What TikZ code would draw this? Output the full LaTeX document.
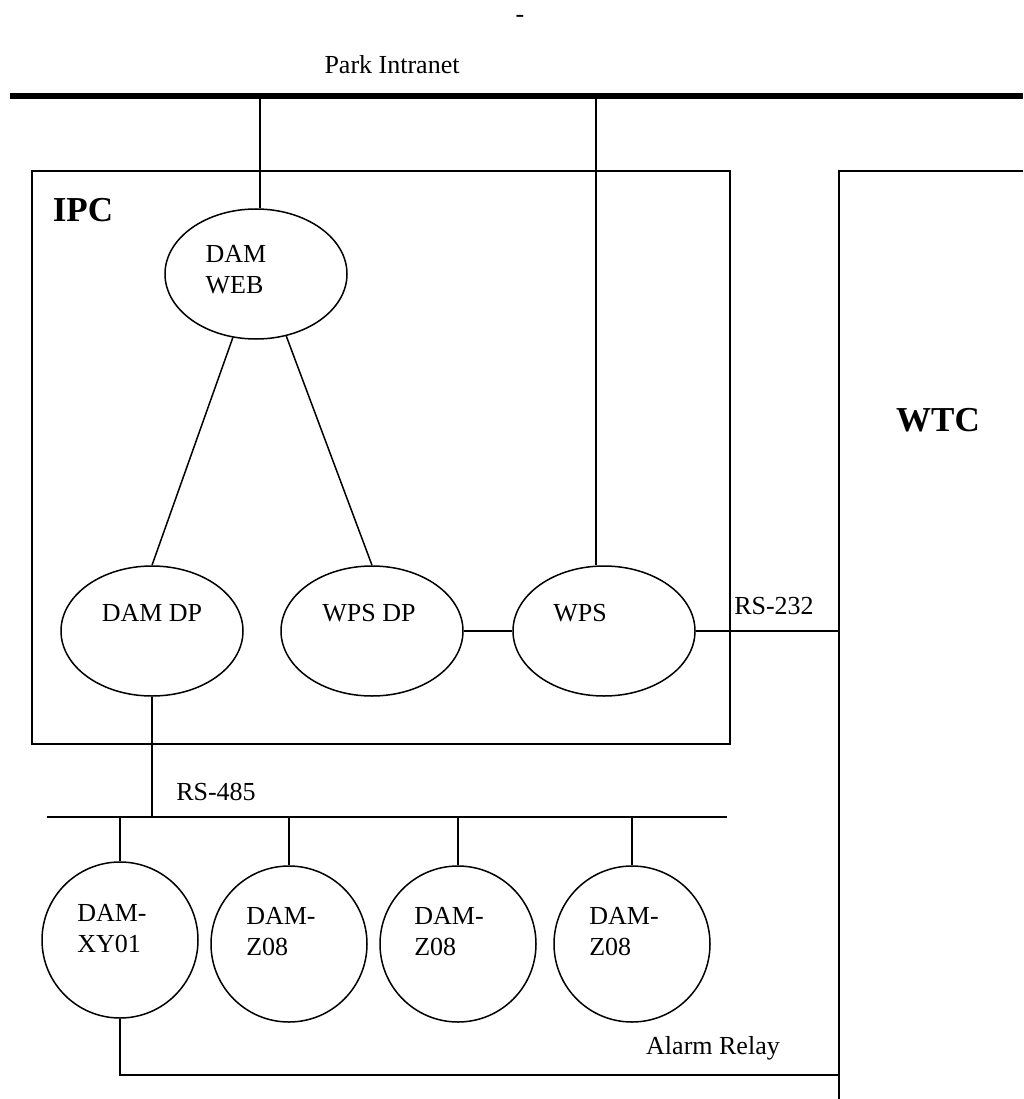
\documentclass[tikz,border=0pt]{standalone}
\usepackage{fontspec}
\setmainfont{Liberation Serif}
\usepackage{tikz}
\usetikzlibrary{shapes.geometric, positioning}

\begin{document}
\begin{tikzpicture}[
            x=1pt, y=-1pt,
            every node/.style={font=\fontsize{26}{31}\selectfont},
            proc/.style={draw, ellipse, line width=1.5pt, inner sep=0pt,
                minimum width=182pt, minimum height=130pt},
            dev/.style={draw, circle, line width=1.5pt, inner sep=0pt,
                minimum size=156pt},
            box/.style={draw, line width=1.8pt},
            link/.style={line width=1.5pt},
            title/.style={font=\fontsize{35}{40}\selectfont\bfseries}
        ]

        \useasboundingbox (0,0) rectangle (1023,1099);

        % intranet bus
        \node (stray) at (520,19) {-};
        \node (intranet) at (392,65) {Park Intranet};
        \coordinate (bus-w) at (10,96);
        \coordinate (bus-e) at (1023,96);
        \draw[line width=6pt] (bus-w) -- (bus-e);

        % the two boxes
        \draw[box] (32,171) rectangle (730,744);
        \node[title] (ipc) at (83,210) {IPC};
        \coordinate (wtc-nw) at (839,171);
        \draw[box] (1023,171) -- (wtc-nw) -- (839,1099);
        \node[title] (wtc) at (938,420) {WTC};

        % processes inside the IPC
        \node[proc, label={[xshift=-20pt, yshift=4pt, align=left]center:DAM\\WEB}] (damweb) at (256,274) {};
        \node[proc, label={[yshift=18pt]center:DAM DP}] (damdp) at (152,631) {};
        \node[proc, label={[xshift=-3pt, yshift=18pt]center:WPS DP}] (wpsdp) at (372,631) {};
        \node[proc, label={[xshift=-24pt, yshift=18pt]center:WPS}] (wps) at (604,631) {};

        \coordinate (tap-web) at (260,96);
        \coordinate (tap-wps) at (596,96);
        \draw[link] (tap-web) -- (tap-web |- damweb.north);
        \draw[link] (tap-wps) -- (tap-wps |- wps.north);

        \path[link] (damweb.-110) edge (damdp.north);
        \path[link] (damweb.-64) edge (wpsdp.north);
        \path[link] (wpsdp.east) edge (wps.east -| wps.west);
        \draw[link] (wps.east) -- (wps.east -| wtc-nw);
        \node (rs232) at (774,606) {RS-232};

        % RS-485 field bus
        \coordinate (rs485-w) at (47,817);
        \coordinate (rs485-e) at (727,817);
        \draw[link] (rs485-w) -- (rs485-e);
        \draw[link] (damdp.south) -- (damdp.south |- rs485-w);
        \node (rs485) at (216,792) {RS-485};

        \node[dev, label={[xshift=-8pt, yshift=11pt, align=left]center:DAM-\\XY01}] (xy01) at (120,940) {};
        \node[dev, label={[xshift=-8pt, yshift=12pt, align=left]center:DAM-\\Z08}] (z08a) at (289,944) {};
        \node[dev, label={[xshift=-9pt, yshift=12pt, align=left]center:DAM-\\Z08}] (z08b) at (458,944) {};
        \node[dev, label={[xshift=-8pt, yshift=12pt, align=left]center:DAM-\\Z08}] (z08c) at (632,944) {};

        \foreach \d in {xy01, z08a, z08b, z08c}
            \draw[link] (\d.north |- rs485-w) -- (\d.north);

        % alarm relay to WTC
        \coordinate (alarm-e) at (839,1075);
        \draw[link] (xy01.south) |- (alarm-e);
        \node (alarm) at (713,1048) {Alarm Relay};
    \end{tikzpicture}
\end{document}
